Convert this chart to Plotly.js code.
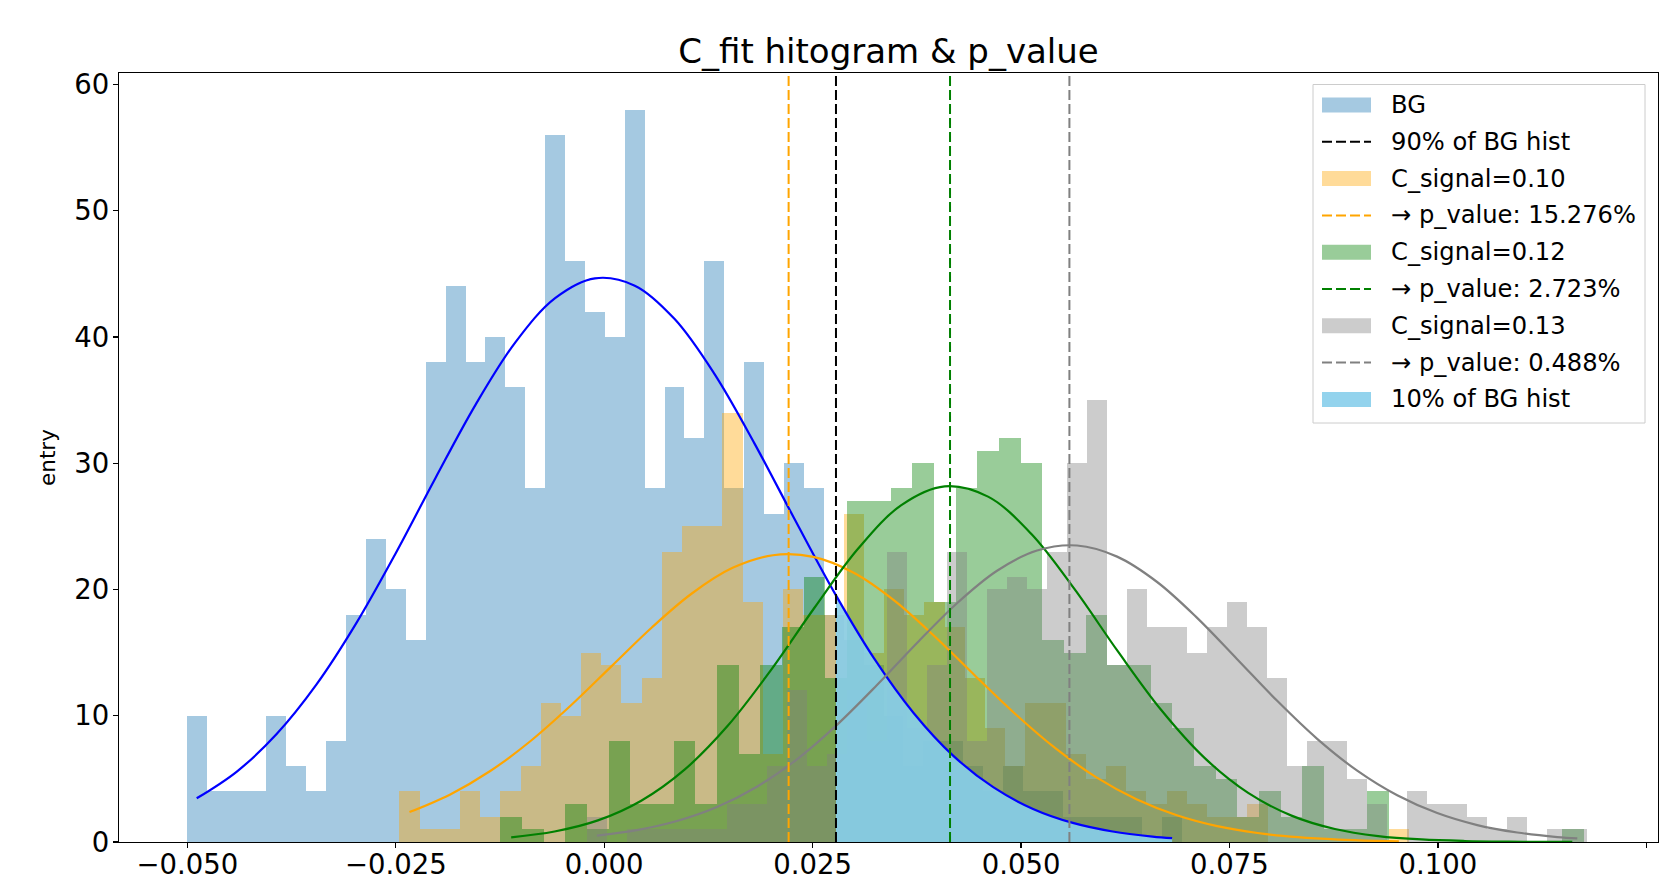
<!DOCTYPE html>
<html>
<head>
<meta charset="utf-8">
<script src="https://cdn.plot.ly/plotly-3.0.1.min.js"></script>
<style>
html,body{margin:0;padding:0;background:#fff;}
#chart{width:1666px;height:892px;}
</style>
</head>
<body>
<div id="chart"></div>
<script>
// ---------- histogram data (first bin edge, bin width, counts per bin) ----------
const bgStart = -0.05007, bgWidth = 0.002388;
const bgCounts = [10,4,4,4,10,6,4,8,18,24, 20,16,38,44,38,40,36,28,56,46,
                  42,40,58,28,36,32,46,28,38,26, 30,28,18,16,14,10,6,8,8,6,
                  4,6,4,4,2,2,2,2,0,2];

const c10Start = -0.02457, c10Width = 0.002422;
const c10Counts = [4,1,1,4,2,4,6,11,10,15, 14,11,13,23,25,25,34,19,7,20,
                   18,18,26,15,20,18,19,17,13,9, 6,11,11,7,5,6,4,3,4,3,
                   2,2,3,0,0,0,0,0,0,1];

const c12Start = -0.01246, c12Width = 0.0026;
const c12Counts = [2,1,0,3,1,8,3,3,8,3, 14,7,14,17,21,13,27,27,28,30,
                   19,28,31,32,30,16,15,18,14,14, 11,9,6,5,2,4,2,6,1,1,
                   4,0,0,0,0,0,0,0,0,1];

const c13Start = -0.00208, c13Width = 0.0024;
const c13Counts = [2,0,1,1,1,1,1,3,3,6, 12,6,7,12,8,23,9,14,23,8,
                   20,21,20,23,30,35,14,20,17,17, 15,17,19,17,13,6,8,8,5,3,
                   0,4,3,3,2,1,2,0,1,1];

// ---------- fitted curves ----------
const bgFitX = [-0.04888,-0.0441,-0.03932,-0.03455,-0.02977,-0.02499,-0.02022,-0.01544,-0.01066,-0.00589,-0.00111,0.00367,0.00845,0.01322,0.018,0.02278,0.0278,0.03233,0.03711,0.04188,0.04666,0.05144,0.05621,0.06099,0.06577,0.06812];
const bgFitY = [3.46,5.56,8.53,12.44,17.29,22.89,28.85,34.62,39.57,43.07,44.64,44.06,41.41,37.07,31.59,25.64,19.53,14.58,10.22,6.82,4.34,2.62,1.51,0.83,0.43,0.31];

const c10FitX = [-0.02336,-0.01852,-0.01367,-0.00883,-0.00398,0.00086,0.00571,0.01055,0.0154,0.02024,0.02508,0.02993,0.03477,0.03962,0.04446,0.04931,0.05415,0.05899,0.06384,0.06868,0.07353,0.07837,0.08322,0.08806,0.0929,0.09532];
const c10FitY = [2.37,3.75,5.62,8.0,10.83,13.91,16.99,19.7,21.71,22.71,22.58,21.32,19.13,16.29,13.19,10.14,7.41,5.14,3.39,2.12,1.26,0.71,0.38,0.19,0.09,0.06];

const c12FitX = [-0.01116,-0.00596,-0.00076,0.00444,0.00964,0.01484,0.02004,0.02524,0.03044,0.03564,0.04084,0.04604,0.05124,0.05644,0.06164,0.06684,0.07204,0.07724,0.08244,0.08764,0.09284,0.09804,0.10324,0.10844,0.11364,0.11612];
const c12FitY = [0.37,0.83,1.71,3.27,5.73,9.22,13.65,18.57,23.22,26.68,28.17,27.35,24.39,20.0,15.07,10.43,6.64,3.89,2.09,1.03,0.47,0.2,0.08,0.03,0.01,0.005];

const c13FitX = [-0.00088,0.00392,0.00872,0.01352,0.01832,0.02312,0.02792,0.03272,0.03752,0.04232,0.04712,0.05192,0.05672,0.06152,0.06632,0.07112,0.07592,0.08072,0.08552,0.09032,0.09512,0.09992,0.10472,0.10952,0.11432,0.11672];
const c13FitY = [0.5,0.94,1.66,2.77,4.38,6.55,9.28,12.43,15.76,18.91,21.48,23.08,23.48,22.6,20.59,17.75,14.48,11.18,8.17,5.65,3.7,2.29,1.34,0.75,0.39,0.28];

// ---------- thresholds ----------
const bg90 = 0.0278;      // 90% of BG hist
const p10Line = 0.02212;  // C_signal=0.10
const p12Line = 0.04148;  // C_signal=0.12
const p13Line = 0.0558;   // C_signal=0.13

const labels = {
  bg: 'BG', bg90: '90% of BG hist',
  c10: 'C_signal=0.10', p10: '\u2192 p_value: 15.276%',
  c12: 'C_signal=0.12', p12: '\u2192 p_value: 2.723%',
  c13: 'C_signal=0.13', p13: '\u2192 p_value: 0.488%',
  tail: '10% of BG hist'
};

const xTickVals = [-0.05,-0.025,0,0.025,0.05,0.075,0.1,0.125];
const xTickText = ['\u22120.050','\u22120.025','0.000','0.025','0.050','0.075','0.100','0.125'];
const yMax = 60.9;
const xRange = [-0.0582, 0.1264];

// ---------- colours ----------
const COL = {
  bg: 'rgba(31,119,180,0.4)', c10: 'rgba(255,165,0,0.4)', c12: 'rgba(0,128,0,0.4)', c13: 'rgba(128,128,128,0.4)',
  tail: 'rgba(135,206,235,0.9)', bgLine: '#0000ff', c10Line: '#ffa500', c12Line: '#008000', c13Line: '#808080', k: '#000000'
};
const DASH = '10px,4px';

// ---------- build traces ----------
function centers(start, width, counts){ return counts.map((_, i) => start + (i + 0.5) * width); }

function barTrace(start, width, counts, color, name){
  return {type:'bar', x: centers(start, width, counts), y: counts, width: width,
          marker:{color: color, line:{width:0}}, name: name, hoverinfo:'skip'};
}
function curve(xs, ys, color){
  return {type:'scatter', mode:'lines', x: xs, y: ys, line:{color: color, width: 2.2, shape:'spline', smoothing: 1},
          hoverinfo:'skip'};
}
function vline(xv, color, name){
  return {type:'scatter', mode:'lines', x:[xv, xv], y:[0, yMax], line:{color: color, width: 2, dash: DASH},
          name: name, hoverinfo:'skip'};
}

const tailX = [], tailY = [];
bgFitX.forEach((v, i) => { if (v >= bg90) { tailX.push(v); tailY.push(bgFitY[i]); } });

const data = [
  barTrace(bgStart, bgWidth, bgCounts, COL.bg, labels.bg),
  barTrace(c10Start, c10Width, c10Counts, COL.c10, labels.c10),
  barTrace(c12Start, c12Width, c12Counts, COL.c12, labels.c12),
  barTrace(c13Start, c13Width, c13Counts, COL.c13, labels.c13),
  {type:'scatter', mode:'none', x: tailX, y: tailY, fill:'tozeroy', fillcolor: COL.tail,
   line:{shape:'spline', smoothing:1, width:0}, name: labels.tail, hoverinfo:'skip'},
  curve(bgFitX, bgFitY, COL.bgLine),
  curve(c10FitX, c10FitY, COL.c10Line),
  curve(c12FitX, c12FitY, COL.c12Line),
  curve(c13FitX, c13FitY, COL.c13Line),
  vline(bg90, COL.k, labels.bg90),
  vline(p10Line, COL.c10Line, labels.p10),
  vline(p12Line, COL.c12Line, labels.p12),
  vline(p13Line, COL.c13Line, labels.p13)
];

// ---------- legend (matplotlib-style box drawn with shapes + annotations) ----------
const M = {l: 119, r: 8, t: 73, b: 50};
const W = 1666, H = 892;
const plotW = W - M.l - M.r, plotH = H - M.t - M.b;
const px2x = p => (p - M.l) / plotW;
const px2y = p => (H - M.b - p) / plotH;

const legendItems = [
  {label: labels.bg,   kind: 'patch', color: COL.bg},
  {label: labels.bg90, kind: 'line',  color: COL.k},
  {label: labels.c10,  kind: 'patch', color: COL.c10},
  {label: labels.p10,  kind: 'line',  color: COL.c10Line},
  {label: labels.c12,  kind: 'patch', color: COL.c12},
  {label: labels.p12,  kind: 'line',  color: COL.c12Line},
  {label: labels.c13,  kind: 'patch', color: COL.c13},
  {label: labels.p13,  kind: 'line',  color: COL.c13Line},
  {label: labels.tail, kind: 'patch', color: COL.tail}
];
const LG = {left: 1313, right: 1645, top: 84.5, bottom: 423, row0: 105, rowGap: 36.8,
            sw0: 1322, sw1: 1371, textX: 1389, patchH: 15};

const FONT = 'DejaVu Sans, Verdana, sans-serif';
const shapes = [{type:'rect', xref:'paper', yref:'paper', layer:'above',
                 x0: px2x(LG.left), x1: px2x(LG.right), y0: px2y(LG.bottom), y1: px2y(LG.top),
                 fillcolor:'rgba(255,255,255,0.8)', line:{color:'#cccccc', width:1}}];
const annotations = [];
legendItems.forEach((it, i) => {
  const cy = LG.row0 + i * LG.rowGap;
  if (it.kind === 'patch') {
    shapes.push({type:'rect', xref:'paper', yref:'paper', layer:'above',
                 x0: px2x(LG.sw0), x1: px2x(LG.sw1), y0: px2y(cy + LG.patchH/2), y1: px2y(cy - LG.patchH/2),
                 fillcolor: it.color, line:{width:0}});
  } else {
    shapes.push({type:'line', xref:'paper', yref:'paper', layer:'above',
                 x0: px2x(LG.sw0), x1: px2x(LG.sw1), y0: px2y(cy), y1: px2y(cy),
                 line:{color: it.color, width: 2, dash: DASH}});
  }
  annotations.push({xref:'paper', yref:'paper', x: px2x(LG.textX), y: px2y(cy), xanchor:'left', yanchor:'middle',
                    showarrow:false, text: it.label, font:{family: FONT, size: 24.2, color:'#000000'}});
});

const layout = {
  width: W, height: H,
  margin: {l: M.l, r: M.r, t: M.t, b: M.b, pad: 0},
  paper_bgcolor: '#ffffff', plot_bgcolor: '#ffffff',
  barmode: 'overlay', bargap: 0,
  showlegend: false,
  font: {family: FONT, color: '#000000'},
  title: {text: 'C_fit hitogram & p_value', font: {family: FONT, size: 34, color: '#000000'},
          xref: 'paper', x: 0.5, xanchor: 'center', yref: 'container', y: 1 - 51/892, yanchor: 'middle'},
  xaxis: {range: xRange, tickmode: 'array', tickvals: xTickVals, ticktext: xTickText,
          showgrid: false, zeroline: false, showline: true, mirror: true, linecolor: '#000000', linewidth: 1.2,
          ticks: 'outside', ticklen: 5, tickwidth: 1.2, tickcolor: '#000000', ticklabelstandoff: -7,
          tickfont: {family: FONT, size: 27.5, color: '#000000'}},
  yaxis: {range: [0, yMax], tickmode: 'linear', tick0: 0, dtick: 10,
          showgrid: false, zeroline: false, showline: true, mirror: true, linecolor: '#000000', linewidth: 1.2,
          ticks: 'outside', ticklen: 5, tickwidth: 1.2, tickcolor: '#000000', ticklabelstandoff: -2,
          tickfont: {family: FONT, size: 27.5, color: '#000000'},
          title: {text: 'entry', font: {family: FONT, size: 21.5, color: '#000000'}, standoff: 12}},
  shapes: shapes,
  annotations: annotations
};

Plotly.newPlot('chart', data, layout, {staticPlot: true, displayModeBar: false});
</script>
</body>
</html>
